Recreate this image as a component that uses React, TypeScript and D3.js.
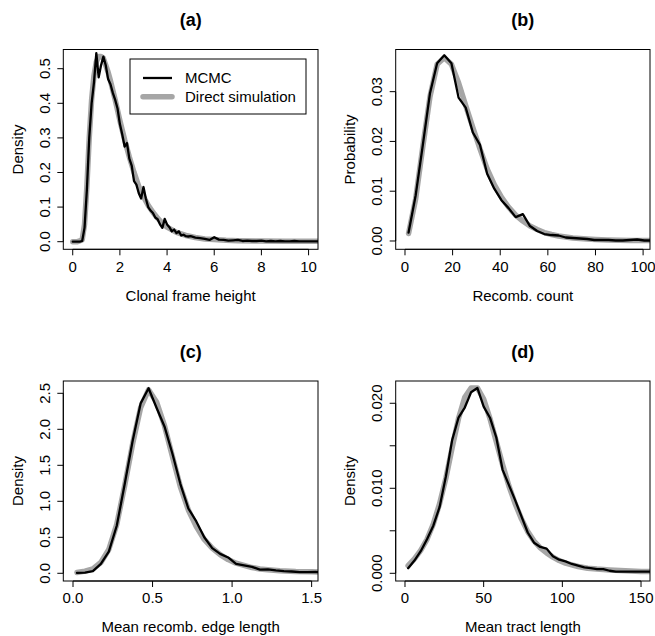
import React from "react";
import * as d3 from "d3";

// ---------- Data ----------
// (a) Clonal frame height
const aMcmcX = [0, 0.1, 0.2, 0.3, 0.4, 0.5, 0.6, 0.7, 0.8, 0.9, 1.0, 1.1, 1.2, 1.3, 1.4, 1.5, 1.6, 1.7, 1.8, 1.9, 2.0, 2.1, 2.2, 2.3, 2.4, 2.5, 2.6, 2.7, 2.8, 2.9, 3.0, 3.1, 3.2, 3.3, 3.4, 3.5, 3.6, 3.7, 3.8, 3.9, 4.0, 4.1, 4.2, 4.3, 4.4, 4.5, 4.6, 4.7, 4.8, 4.9, 5.0, 5.2, 5.4, 5.6, 5.8, 6.0, 6.2, 6.4, 6.6, 6.8, 7.0, 7.2, 7.4, 7.6, 7.8, 8.0, 8.2, 8.4, 8.6, 8.8, 9.0, 9.2, 9.4, 9.6, 9.8, 10.0, 10.2, 10.4];
const aMcmcY = [0, 0, 0, 0, 0.002, 0.04, 0.15, 0.3, 0.4, 0.46, 0.545, 0.475, 0.51, 0.535, 0.51, 0.47, 0.455, 0.43, 0.41, 0.385, 0.34, 0.31, 0.275, 0.285, 0.24, 0.22, 0.175, 0.165, 0.14, 0.125, 0.158, 0.125, 0.1, 0.09, 0.083, 0.07, 0.065, 0.05, 0.04, 0.066, 0.05, 0.042, 0.03, 0.035, 0.025, 0.03, 0.018, 0.02, 0.016, 0.015, 0.016, 0.012, 0.01, 0.008, 0.005, 0.013, 0.006, 0.005, 0.003, 0.004, 0.005, 0.002, 0.003, 0.002, 0.002, 0.003, 0.001, 0.002, 0.001, 0.002, 0.001, 0.001, 0.002, 0.001, 0.001, 0.001, 0.001, 0.001];
const aSimX = [0, 0.2, 0.4, 0.5, 0.6, 0.7, 0.8, 0.9, 1.0, 1.1, 1.2, 1.3, 1.4, 1.5, 1.6, 1.8, 2.0, 2.2, 2.4, 2.6, 2.8, 3.0, 3.2, 3.4, 3.6, 3.8, 4.0, 4.4, 4.8, 5.2, 5.6, 6.0, 6.5, 7, 8, 9, 10.4];
const aSimY = [0, 0, 0.005, 0.05, 0.16, 0.3, 0.41, 0.48, 0.52, 0.535, 0.535, 0.53, 0.51, 0.49, 0.465, 0.41, 0.35, 0.295, 0.245, 0.2, 0.16, 0.13, 0.105, 0.085, 0.068, 0.053, 0.042, 0.027, 0.018, 0.012, 0.008, 0.006, 0.004, 0.003, 0.002, 0.001, 0.001];

// (b) Recomb. count
const bMcmcX = [1.5, 4.5, 7.5, 10.5, 13.5, 16.5, 19.5, 22.5, 25.5, 28.5, 31.5, 34.5, 37.5, 40.5, 43.5, 46.5, 49.5, 52.5, 55.5, 58.5, 61.5, 64.5, 67.5, 70.5, 73.5, 76.5, 79.5, 82.5, 85.5, 88.5, 91.5, 94.5, 97.5, 100.5, 103.5];
const bMcmcY = [0.0017, 0.0092, 0.0193, 0.0297, 0.0357, 0.0373, 0.0357, 0.0288, 0.0268, 0.0218, 0.0193, 0.0135, 0.0105, 0.0082, 0.0066, 0.0048, 0.0054, 0.003, 0.002, 0.0014, 0.0012, 0.0011, 0.0007, 0.0006, 0.0005, 0.0004, 0.0002, 0.0002, 0.0002, 0.0001, 0.0001, 0.0002, 0.0003, 0.0001, 0.0001];
const bSimX = [1.5, 4.5, 7.5, 10.5, 13.5, 16.5, 19.5, 22.5, 25.5, 28.5, 31.5, 34.5, 37.5, 40.5, 43.5, 46.5, 49.5, 52.5, 55.5, 58.5, 61.5, 64.5, 67.5, 70.5, 73.5, 76.5, 80, 85, 90, 95, 103.5];
const bSimY = [0.0015, 0.0085, 0.019, 0.029, 0.0355, 0.0368, 0.0355, 0.0318, 0.0272, 0.0228, 0.0185, 0.0145, 0.0113, 0.0088, 0.0068, 0.0052, 0.004, 0.003, 0.0023, 0.0017, 0.0013, 0.001, 0.0008, 0.0006, 0.0005, 0.0004, 0.0003, 0.0002, 0.00015, 0.0001, 0.0001];

// (c) Mean recomb. edge length
const cMcmcX = [0.025, 0.075, 0.125, 0.175, 0.225, 0.275, 0.325, 0.375, 0.425, 0.475, 0.525, 0.575, 0.625, 0.675, 0.725, 0.775, 0.825, 0.875, 0.925, 0.975, 1.025, 1.075, 1.125, 1.175, 1.225, 1.275, 1.325, 1.375, 1.425, 1.475, 1.525, 1.575];
const cMcmcY = [0.005, 0.01, 0.03, 0.13, 0.3, 0.66, 1.24, 1.84, 2.36, 2.57, 2.3, 2.04, 1.66, 1.24, 0.9, 0.72, 0.5, 0.35, 0.27, 0.22, 0.13, 0.11, 0.09, 0.05, 0.055, 0.04, 0.03, 0.025, 0.015, 0.015, 0.018, 0.015];
const cSimX = [0.025, 0.075, 0.125, 0.175, 0.225, 0.275, 0.325, 0.375, 0.425, 0.475, 0.525, 0.575, 0.625, 0.675, 0.725, 0.775, 0.825, 0.875, 0.925, 0.975, 1.025, 1.075, 1.125, 1.175, 1.225, 1.3, 1.4, 1.5, 1.575];
const cSimY = [0.01, 0.03, 0.06, 0.15, 0.33, 0.68, 1.22, 1.8, 2.3, 2.55, 2.38, 2.05, 1.62, 1.2, 0.88, 0.65, 0.47, 0.35, 0.26, 0.19, 0.14, 0.11, 0.08, 0.06, 0.05, 0.035, 0.025, 0.02, 0.018];

// (d) Mean tract length
const dMcmcX = [2, 6, 10, 14, 18, 22, 26, 30, 34, 38, 42, 46, 50, 54, 58, 62, 66, 70, 74, 78, 82, 86, 90, 94, 98, 102, 106, 110, 114, 118, 122, 126, 130, 134, 138, 142, 146, 150, 154, 158];
const dMcmcY = [0.0006, 0.0015, 0.0026, 0.004, 0.0056, 0.0078, 0.0114, 0.0157, 0.0183, 0.0195, 0.0213, 0.0218, 0.0196, 0.0183, 0.016, 0.0122, 0.0104, 0.0086, 0.0067, 0.0048, 0.0036, 0.0031, 0.0029, 0.002, 0.0016, 0.0014, 0.0011, 0.0009, 0.0007, 0.0006, 0.0005, 0.0005, 0.0003, 0.0002, 0.0002, 0.0002, 0.0002, 0.0002, 0.0002, 0.0002];
const dSimX = [2, 6, 10, 14, 18, 22, 26, 30, 34, 38, 42, 46, 50, 54, 58, 62, 66, 70, 74, 78, 82, 86, 90, 94, 98, 102, 106, 110, 116, 122, 130, 140, 150, 158];
const dSimY = [0.0009, 0.0017, 0.0027, 0.004, 0.0058, 0.0082, 0.0112, 0.0148, 0.0182, 0.0207, 0.0218, 0.0218, 0.0205, 0.0182, 0.0155, 0.0128, 0.0103, 0.0082, 0.0064, 0.0049, 0.0038, 0.003, 0.0024, 0.0019, 0.0015, 0.0012, 0.001, 0.0008, 0.0006, 0.0005, 0.0004, 0.0003, 0.0002, 0.0002];

// Ticks
const aXTicks = [0, 2, 4, 6, 8, 10];
const aYTicks = [0, 0.1, 0.2, 0.3, 0.4, 0.5];
const aYLabels = ["0.0", "0.1", "0.2", "0.3", "0.4", "0.5"];
const bXTicks = [0, 20, 40, 60, 80, 100];
const bYTicks = [0, 0.01, 0.02, 0.03];
const bYLabels = ["0.00", "0.01", "0.02", "0.03"];
const cXTicks = [0, 0.5, 1.0, 1.5];
const cXLabels = ["0.0", "0.5", "1.0", "1.5"];
const cYTicks = [0, 0.5, 1.0, 1.5, 2.0, 2.5];
const cYLabels = ["0.0", "0.5", "1.0", "1.5", "2.0", "2.5"];
const dXTicks = [0, 50, 100, 150];
const dYTicks = [0, 0.005, 0.01, 0.015, 0.02];
const dYLabels = ["0.000", "", "0.010", "", "0.020"];

const titles = ["(a)", "(b)", "(c)", "(d)"];
const xLabels = ["Clonal frame height", "Recomb. count", "Mean recomb. edge length", "Mean tract length"];
const yLabels = ["Density", "Probability", "Density", "Density"];
const legendLabels = ["MCMC", "Direct simulation"];

const FONT = "'Liberation Sans', Arial, Helvetica, sans-serif";
const GRAY = "#a6a6a6";

const zip = (xs: number[], ys: number[]) => xs.map((x, i) => [x, ys[i]] as [number, number]);

const panels = [
  { left: 63.3, top: 49.5, w: 254.7, h: 199.8, xd: [-0.4, 10.4], yd: [-0.022, 0.5555], xt: aXTicks, xl: aXTicks.map(String), yt: aYTicks, yl: aYLabels, mc: zip(aMcmcX, aMcmcY), sim: zip(aSimX, aSimY) },
  { left: 395.7, top: 49.5, w: 254.3, h: 199.8, xd: [-3.9, 102.9], yd: [-0.00167, 0.03847], xt: bXTicks, xl: bXTicks.map(String), yt: bYTicks, yl: bYLabels, mc: zip(bMcmcX, bMcmcY), sim: zip(bSimX, bSimY) },
  { left: 63.3, top: 381, w: 254.7, h: 200, xd: [-0.061, 1.54], yd: [-0.107, 2.671], xt: cXTicks, xl: cXLabels, yt: cYTicks, yl: cYLabels, mc: zip(cMcmcX, cMcmcY), sim: zip(cSimX, cSimY) },
  { left: 395.7, top: 381, w: 254.3, h: 200, xd: [-5.9, 155.7], yd: [-0.000906, 0.02262], xt: dXTicks, xl: dXTicks.map(String), yt: dYTicks, yl: dYLabels, mc: zip(dMcmcX, dMcmcY), sim: zip(dSimX, dSimY) },
];

function Panel({ p, i }: { p: any; i: number }) {
  const x = d3.scaleLinear().domain(p.xd).range([p.left, p.left + p.w]);
  const y = d3.scaleLinear().domain(p.yd).range([p.top + p.h, p.top]);
  const line = d3.line<[number, number]>().x((d) => x(d[0])).y((d) => y(d[1]));
  const bottom = p.top + p.h;
  const cx = p.left + p.w / 2;
  const cy = p.top + p.h / 2;
  const clipId = `clip${i}`;
  return (
    <g>
      <defs>
        <clipPath id={clipId}>
          <rect x={p.left} y={p.top} width={p.w} height={p.h} />
        </clipPath>
      </defs>
      <g clipPath={`url(#${clipId})`}>
        <path d={line(p.sim) || ""} fill="none" stroke={GRAY} strokeWidth={5.5} strokeLinejoin="round" strokeLinecap="round" />
        <path d={line(p.mc) || ""} fill="none" stroke="#000" strokeWidth={2.3} strokeLinejoin="round" strokeLinecap="round" />
      </g>
      <rect x={p.left} y={p.top} width={p.w} height={p.h} fill="none" stroke="#000" strokeWidth={1} />
      {/* x axis */}
      <line x1={x(p.xt[0])} x2={x(p.xt[p.xt.length - 1])} y1={bottom} y2={bottom} stroke="#000" />
      {p.xt.map((t: number, k: number) => (
        <g key={"xt" + k}>
          <line x1={x(t)} x2={x(t)} y1={bottom} y2={bottom + 6} stroke="#000" />
          <text x={x(t)} y={bottom + 22.4} textAnchor="middle" fontSize={15} fontFamily={FONT}>{p.xl[k]}</text>
        </g>
      ))}
      {/* y axis */}
      <line x1={p.left} x2={p.left} y1={y(p.yt[0])} y2={y(p.yt[p.yt.length - 1])} stroke="#000" />
      {p.yt.map((t: number, k: number) => (
        <g key={"yt" + k}>
          <line x1={p.left - 6} x2={p.left} y1={y(t)} y2={y(t)} stroke="#000" />
          {p.yl[k] ? (
            <text transform={`translate(${p.left - 13.3},${y(t)}) rotate(-90)`} textAnchor="middle" fontSize={15} fontFamily={FONT}>{p.yl[k]}</text>
          ) : null}
        </g>
      ))}
      <text x={cx} y={bottom + 51.2} textAnchor="middle" fontSize={15} fontFamily={FONT}>{xLabels[i]}</text>
      <text transform={`translate(${p.left - 40.8},${cy}) rotate(-90)`} textAnchor="middle" fontSize={15} fontFamily={FONT}>{yLabels[i]}</text>
      <text x={cx} y={p.top - 23.5} textAnchor="middle" fontSize={18} fontWeight="bold" fontFamily={FONT}>{titles[i]}</text>
    </g>
  );
}

export default function App() {
  return (
    <svg width={655} height={636} style={{ position: "absolute", left: 0, top: 0, background: "#fff" }}>
      <rect x={0} y={0} width={655} height={636} fill="#fff" />
      {panels.map((p, i) => (
        <Panel key={i} p={p} i={i} />
      ))}
      {/* legend in panel (a) */}
      <g>
        <rect x={130} y={59} width={176} height={55} fill="#fff" stroke="#000" strokeWidth={1} />
        <line x1={143} x2={172} y1={78} y2={78} stroke="#000" strokeWidth={2.3} />
        <line x1={143} x2={172} y1={96.7} y2={96.7} stroke={GRAY} strokeWidth={5.5} strokeLinecap="round" />
        <text x={185} y={83.3} fontSize={15} fontFamily={FONT}>{legendLabels[0]}</text>
        <text x={185} y={101.8} fontSize={15} fontFamily={FONT}>{legendLabels[1]}</text>
      </g>
    </svg>
  );
}
